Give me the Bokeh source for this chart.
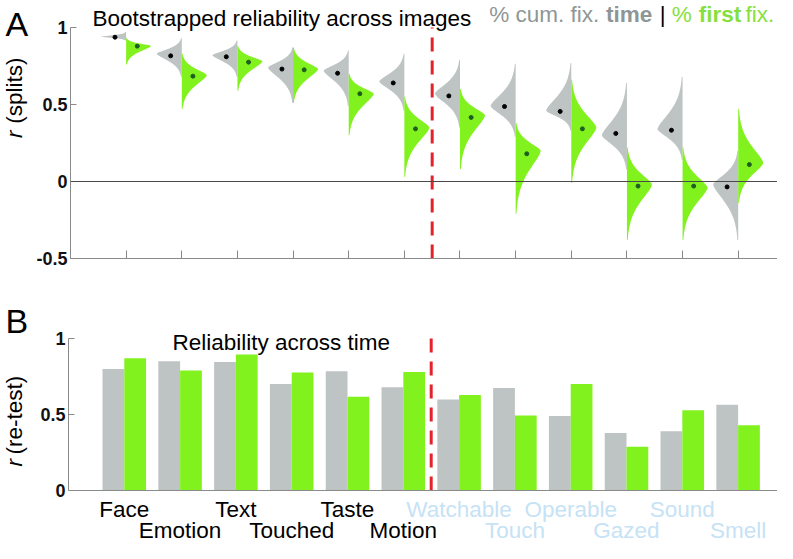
import numpy as np
from bokeh.plotting import figure
from bokeh.layouts import column, row
from bokeh.models import Label, LabelSet, ColumnDataSource, Span, Range1d, FixedTicker
from bokeh.core.properties import value
from bokeh.embed import file_html
from bokeh.resources import INLINE

categories = ["Face", "Emotion", "Text", "Touched", "Taste", "Motion",
              "Watchable", "Touch", "Operable", "Gazed", "Sound", "Smell"]

# Panel A: bootstrapped split-half reliability distributions
# left half = % cum. fix. time (gray), right half = % first fix. (green)
time_mean = [0.937, 0.816, 0.81, 0.73, 0.703, 0.64, 0.556, 0.487, 0.455, 0.312, 0.333, -0.035]
time_mode = [0.94, 0.83, 0.82, 0.74, 0.72, 0.65, 0.57, 0.49, 0.46, 0.30, 0.34, -0.02]
time_top = [0.97, 0.93, 0.915, 0.87, 0.85, 0.83, 0.79, 0.765, 0.77, 0.64, 0.68, 0.20]
time_bot = [0.915, 0.68, 0.68, 0.51, 0.49, 0.46, 0.35, 0.29, 0.33, 0.08, 0.14, -0.38]
first_mean = [0.879, 0.684, 0.775, 0.725, 0.57, 0.342, 0.416, 0.18, 0.342, -0.03, -0.03, 0.11]
first_mode = [0.88, 0.69, 0.78, 0.73, 0.57, 0.35, 0.43, 0.20, 0.35, -0.02, -0.04, 0.12]
first_top = [0.93, 0.83, 0.88, 0.87, 0.70, 0.55, 0.60, 0.38, 0.66, 0.22, 0.22, 0.47]
first_bot = [0.76, 0.47, 0.59, 0.51, 0.30, 0.03, 0.08, -0.21, -0.01, -0.38, -0.38, -0.14]

# Panel B: test-retest reliability
time_retest = [0.80, 0.85, 0.846, 0.70, 0.784, 0.68, 0.598, 0.675, 0.49, 0.378, 0.39, 0.564]
first_retest = [0.87, 0.79, 0.895, 0.777, 0.617, 0.78, 0.628, 0.494, 0.70, 0.288, 0.528, 0.43]

GRAY = "#BEC3C3"
GREEN = "#82F21E"
LBLUE = "#C6E2F5"
RED = "#E3232A"
FONT = "Liberation Sans"
AXC = "#8a8a8a"
FS = "22.5px"

xpos = list(range(1, len(categories) + 1))
LEFTW = 33          # width of left text strip
PW = 777 - LEFTW    # width of the panel figures
PXU = 55.8          # pixels per category
XR = (0, (PW - 35) / PXU)


def half_violin(center, mode, top, bot, side, W=0.45, n=90):
    ys = np.linspace(bot, top, n)
    su = max(top - mode, 1e-3) / 2.3
    sd = max(mode - bot, 1e-3) / 2.3
    d = np.where(ys >= mode, (ys - mode) / su, (mode - ys) / sd)
    w = W * np.exp(-np.abs(d) ** 1.5)
    xs = center + side * w
    return [center] + list(xs) + [center], [bot] + list(ys) + [top]


def style_yaxis(p, ticks, labels, bounds):
    p.grid.visible = False
    p.outline_line_color = None
    ax = p.yaxis[0]
    ax.ticker = FixedTicker(ticks=ticks)
    ax.major_label_overrides = dict(zip(ticks, labels))
    ax.bounds = bounds
    ax.axis_line_color = AXC
    ax.major_tick_line_color = AXC
    ax.minor_tick_line_color = None
    ax.major_tick_in = 6
    ax.major_tick_out = 0
    ax.major_label_text_font = FONT
    ax.major_label_text_font_style = "bold"
    ax.major_label_text_font_size = "18px"
    ax.major_label_text_color = "#111111"
    ax.major_label_standoff = 3


def lab(p, x, y, text, size=FS, color="black", style="normal", angle=0,
        align="left", baseline="alphabetic"):
    p.add_layout(Label(x=x, y=y, text=text, text_font=FONT, text_font_size=size,
                       text_color=color, text_font_style=style, angle=angle,
                       text_align=align, text_baseline=baseline))


def text_strip(w, h):
    f = figure(width=w, height=h, output_backend="svg", toolbar_location=None,
               x_range=Range1d(0, w), y_range=Range1d(0, h),
               x_axis_location=None, y_axis_location=None,
               min_border_left=0, min_border_right=0, min_border_top=0, min_border_bottom=0)
    f.grid.visible = False
    f.outline_line_color = None
    return f


# ---------- Panel A ----------
HA = 272
pa = figure(width=PW, height=HA, output_backend="svg", toolbar_location=None,
            x_range=Range1d(*XR), y_range=Range1d(-0.5, 1 + 27 / 154.0),
            min_border_left=35, min_border_right=0, min_border_top=0, min_border_bottom=14)
style_yaxis(pa, [-0.5, 0, 0.5, 1], ["-0.5", "0", "0.5", "1"], (-0.5, 1))
xa_ax = pa.xaxis[0]
xa_ax.ticker = FixedTicker(ticks=xpos)
xa_ax.major_label_overrides = {c: "" for c in xpos}
xa_ax.major_label_standoff = 0
xa_ax.axis_line_color = AXC
xa_ax.major_tick_line_color = AXC
xa_ax.minor_tick_line_color = None
xa_ax.major_tick_in = 8
xa_ax.major_tick_out = 0

pa.add_layout(Span(location=0, dimension="width", line_color="#4a4a4a", line_width=1))

gxs, gys, fxs, fys = [], [], [], []
for i, c in enumerate(xpos):
    a, b = half_violin(c, time_mode[i], time_top[i], time_bot[i], -1)
    gxs.append(a); gys.append(b)
    a, b = half_violin(c, first_mode[i], first_top[i], first_bot[i], 1)
    fxs.append(a); fys.append(b)
pa.patches(gxs, gys, fill_color=GRAY, line_color=None)
pa.patches(fxs, fys, fill_color=GREEN, line_color=None)
pa.scatter([c - 0.2 for c in xpos], time_mean, size=4, color="black")
pa.scatter([c + 0.2 for c in xpos], first_mean, size=4, color="#1E5E1E")
pa.segment(x0=[6.5], y0=[-0.5], x1=[6.5], y1=[1.0], line_color=RED,
           line_width=3, line_dash="14 9")


def xa(refx):
    return (refx - 68) / PXU


def ya(refy):
    return 1 - (refy - 27) / 154.0


lab(pa, xa(90), ya(18), "Bootstrapped reliability across images")
LG = "#8E9696"
LGR = "#86E03C"
lab(pa, xa(488), ya(14), "% cum. fix.", color=LG)
lab(pa, xa(605), ya(14), "time", color=LG, style="bold")
lab(pa, xa(659), ya(14), "|", color="black")
lab(pa, xa(671), ya(14), "%", color=LGR)
lab(pa, xa(698), ya(14), "first", color=LGR, style="bold")
lab(pa, xa(745), ya(14), "fix.", color=LGR)

la = text_strip(LEFTW, HA)
lab(la, 5, HA - 25, "A", size="34px")
lab(la, 14, HA - 145, "r", style="italic", angle=np.pi / 2, baseline="middle")
lab(la, 14, HA - 130, "(splits)", angle=np.pi / 2, baseline="middle")

# ---------- Panel B ----------
HB = 543 - HA
Y0 = 490.0   # canvas y of r = 0
SC = 152.0   # px per unit
pb = figure(width=PW, height=HB, output_backend="svg", toolbar_location=None,
            x_range=Range1d(*XR),
            y_range=Range1d((Y0 - 543) / SC, (Y0 - HA) / SC),
            x_axis_location=None,
            min_border_left=35, min_border_right=0, min_border_top=0, min_border_bottom=0)
style_yaxis(pb, [0, 0.5, 1], ["0", "0.5", "1"], (0, 1))

pb.vbar(x=[c - 0.195 for c in xpos], top=time_retest, width=0.39, bottom=0,
        fill_color=GRAY, line_color=None)
pb.vbar(x=[c + 0.195 for c in xpos], top=first_retest, width=0.39, bottom=0,
        fill_color=GREEN, line_color=None)
pb.add_layout(Span(location=0, dimension="width", line_color=AXC, line_width=1))
pb.segment(x0=[6.5], y0=[0], x1=[6.5], y1=[1.0], line_color=RED,
           line_width=3, line_dash="14 9")


def yb(cy):
    return (Y0 - cy) / SC


lab(pb, xa(172), yb(342), "Reliability across time")

row_y = [yb(516) if i % 2 == 0 else yb(537) for i in range(len(categories))]
colors = ["black"] * 6 + [LBLUE] * 6
src = ColumnDataSource(dict(x=xpos, y=row_y, t=categories, c=colors))
pb.add_layout(LabelSet(x="x", y="y", text="t", source=src, text_color="c",
                       text_font=value(FONT), text_font_size=value(FS),
                       text_align="center", text_baseline="alphabetic"))

lb = text_strip(LEFTW, HB)
lab(lb, 5, HB - (320 - HA), "B", size="34px")
lab(lb, 14, HB - (466 - HA), "r", style="italic", angle=np.pi / 2, baseline="middle")
lab(lb, 14, HB - (454 - HA), "(re-test)", angle=np.pi / 2, baseline="middle")

layout = column(row(la, pa, spacing=0), row(lb, pb, spacing=0), spacing=0)
open("out.html", "w").write(file_html(layout, INLINE))
